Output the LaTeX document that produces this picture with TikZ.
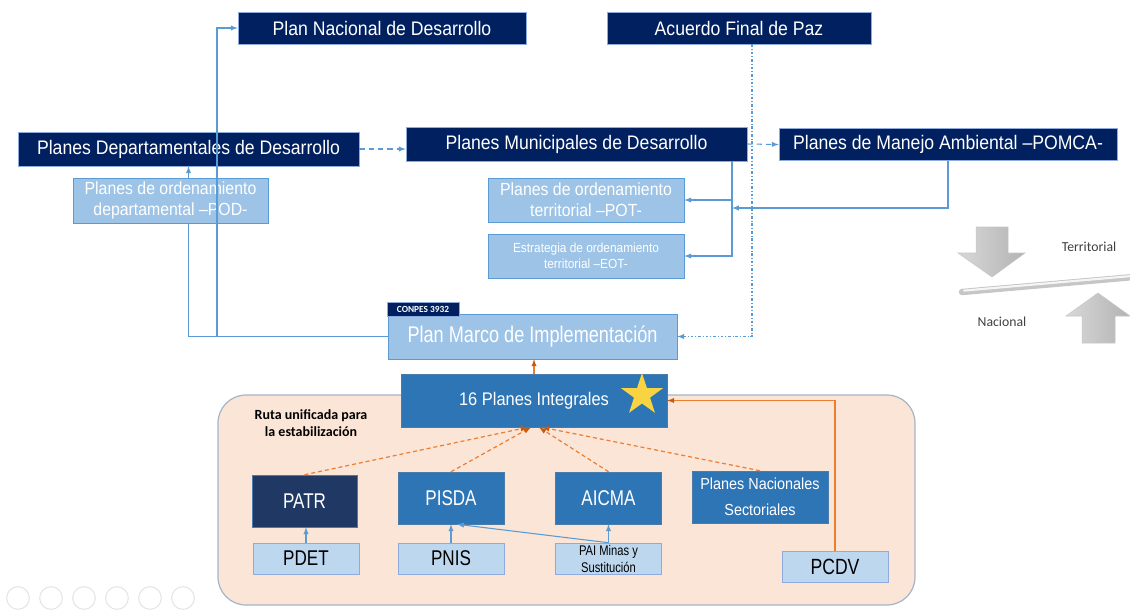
\documentclass[tikz,border=0pt]{standalone}
\usepackage{fontspec}
\setmainfont[FakeStretch=0.9]{Liberation Sans}
\newfontfamily\narrowsans[FakeStretch=0.8]{Liberation Sans}
\newfontfamily\calibri{Carlito}
\usetikzlibrary{shapes.geometric,calc}

\definecolor{plannavy}{HTML}{002060}
\definecolor{patrnavy}{HTML}{203864}
\definecolor{midblue}{HTML}{2E75B6}
\definecolor{softblue}{HTML}{9DC3E6}
\definecolor{paleblue}{HTML}{BDD7EE}
\definecolor{lineblue}{HTML}{5B9BD5}
\definecolor{frameblue}{HTML}{8FAADC}
\definecolor{peach}{HTML}{FBE5D6}
\definecolor{peachframe}{HTML}{A3B4CA}
\definecolor{rutaorange}{HTML}{ED7D31}
\definecolor{darkorange}{HTML}{C55A11}
\definecolor{staryellow}{HTML}{F8D443}

\tikzset{
  plan/.style={draw=frameblue, fill=plannavy, text=white, inner sep=0pt,
    minimum height=24pt, font=\fontsize{14.7}{17}\selectfont},
  ordbox/.style={draw=lineblue, fill=softblue, text=white, inner sep=0pt, align=center,
    minimum width=147pt, minimum height=33pt},
  programa/.style={draw=lineblue!80!black, fill=midblue, text=white, inner sep=0pt,
    align=center, minimum width=79.5pt, minimum height=39pt},
  fuente/.style={draw=frameblue, fill=paleblue, text=black, inner sep=0pt, align=center,
    minimum width=79.5pt, minimum height=23.25pt, font=\narrowsans\fontsize{16}{18}\selectfont},
  blueline/.style={lineblue, line width=0.8pt},
  bluedash/.style={lineblue, line width=0.8pt, dash pattern=on 4pt off 3pt},
  bluedots/.style={lineblue, line width=0.8pt, dash pattern=on 2pt off 1.5pt on 0.6pt off 1.5pt},
  orangedash/.style={rutaorange, line width=0.9pt, dash pattern=on 3pt off 2.2pt},
  orangeline/.style={rutaorange, line width=0.8pt},
  grayarrow/.style={left color=gray!30, right color=gray!60, draw=gray!45, line width=0.4pt},
  calitext/.style={text=black!75, font=\calibri\fontsize{10.3}{12}\selectfont}
}

\begin{document}
\begin{tikzpicture}[>=latex, x=0.75pt, y=-0.75pt]
\useasboundingbox (0,0) rectangle (1130,611);

% ruta unificada
\draw[fill=peach, draw=peachframe, line width=0.9pt, rounded corners=21pt] (218,395) rectangle (915,605);
\node[font=\calibri\bfseries\fontsize{10.5}{12.5}\selectfont, align=center] (ruta) at (311,423)
  {Ruta unificada para\\la estabilización};

% top level
\node[plan, minimum width=216pt] (pnd) at (382,28) {Plan Nacional de Desarrollo};
\node[plan, minimum width=198pt] (afp) at (739,28) {Acuerdo Final de Paz};
\node[plan, minimum width=255.75pt, minimum height=25.5pt] (pdd) at (188.5,149) {Planes Departamentales de Desarrollo};
\node[plan, minimum width=255.75pt, minimum height=25.5pt] (pmd) at (576.5,144) {Planes Municipales de Desarrollo};
\node[plan, minimum width=253.5pt] (pma) at (948,144.5) {Planes de Manejo Ambiental –POMCA-};

\node[ordbox, minimum width=216.75pt, minimum height=33.75pt,
  font=\narrowsans\fontsize{17}{19}\selectfont] (pmi) at (532.5,336.5) {Plan Marco de Implementación};
\node[fill=plannavy, draw=frameblue, line width=0.3pt, text=white, inner sep=0pt,
  minimum width=54pt, minimum height=10.5pt, font=\calibri\bfseries\fontsize{7}{8}\selectfont] (conpes) at (423,309) {CONPES 3932};

% departamental
\draw[blueline,->] (pmi.west) -| (pdd.south);
\node[ordbox, minimum width=146.25pt, minimum height=33.75pt,
  font=\fontsize{13.2}{15.75}\selectfont] (pod) at (170.5,200.5) {Planes de ordenamiento\\departamental –POD-};
\node[ordbox, font=\fontsize{13.2}{15.75}\selectfont] (pot) at (586,200) {Planes de ordenamiento\\territorial –POT-};
\node[ordbox, font=\fontsize{9.9}{12}\selectfont] (eot) at (586,256) {Estrategia de ordenamiento\\territorial –EOT-};

\coordinate (pndx) at (217,0);
\coordinate (munx) at (732,0);
\coordinate (pazx) at (752,0);
\coordinate (mjoin) at (732,208);

\draw[blueline,->] (pmi.west) -- (pmi.west -| pndx) |- (pnd.west);
\draw[bluedash,->] (pdd.east) -- (pdd.east -| pmd.west);
\draw[bluedash,->] (pmd.east) -- (pma.west);
\draw[blueline,->] (pmd.south -| munx) |- (pot.east);
\draw[blueline,->] (pmd.south -| munx) |- (eot.east);
\draw[blueline,->] (pma.south) |- (mjoin);
\draw[bluedots,->] (afp.south -| pazx) |- (pmi.east);

% planes integrales
\node[programa, minimum width=199.5pt, minimum height=39.75pt,
  font=\fontsize{13.7}{16}\selectfont] (pin) at (534,400.5) {16 Planes Integrales};
\node[star, star points=5, star point ratio=2.6, fill=staryellow, inner sep=0pt,
  minimum size=33pt] (estrella) at (642,395) {};

\node[programa, fill=patrnavy, minimum width=78.75pt, font=\narrowsans\fontsize{16}{18}\selectfont] (patr) at (304.5,501) {PATR};
\node[programa, font=\narrowsans\fontsize{16}{18}\selectfont] (pisda) at (451,498) {PISDA};
\node[programa, font=\narrowsans\fontsize{16}{18}\selectfont] (aicma) at (608.5,498) {AICMA};
\node[programa, minimum width=102pt, font=\fontsize{12}{19.5}\selectfont] (pns) at (760,497) {Planes Nacionales\\Sectoriales};

\node[fuente] (pdet) at (306,558.5) {PDET};
\node[fuente] (pnis) at (451,558.5) {PNIS};
\node[fuente, font=\narrowsans\fontsize{10.5}{12.75}\selectfont] (pai) at (608.5,558.5) {PAI Minas y\\Sustitución};
\node[fuente, font=\narrowsans\fontsize{16.5}{18}\selectfont] (pcdv) at (835,566.5) {PCDV};

\draw[blueline,->] (pdet.north) -- (pdet.north |- patr.south);
\draw[blueline,->] (pnis.north) -- (pisda.south);
\draw[blueline,->] (pai.north) -- (aicma.south);
\draw[blueline,->] (pai.north) -- ($(pisda.south)+(6,0)$);

\foreach \src/\dx in {patr/-6, pisda/-3, aicma/5, pns/8}
{
    \draw[orangedash, -{latex[darkorange]}] (\src.north) -- ($(pin.south)+(\dx,0)$);
}
\draw[orangeline, -{latex[darkorange]}] (pin.north) -- (pin.north |- pmi.south);
\draw[orangeline, -{latex[darkorange]}] (pcdv.north) |- (pin.east);

% territorial / nacional
\draw[grayarrow] (976,227) -- (1008,227) -- (1008,253) -- (1025,253) -- (992,277)
  -- (958,253) -- (976,253) -- cycle;
\draw[grayarrow] (1082,343) -- (1115,343) -- (1115,316) -- (1130,316) -- (1098,293)
  -- (1066,316) -- (1082,316) -- cycle;
\draw[gray!45, line width=4.8pt, line cap=round] (962,292) -- (1134,277);
\draw[gray!8, line width=1.6pt, line cap=round] (964,290.6) -- (1134,275.8);
\node[calitext] (terr) at (1089,247) {Territorial};
\node[calitext] (nac) at (1002,322) {Nacional};

% visor
\foreach \x in {18,51,84,117,150,183}
{
    \draw[gray!20, line width=0.8pt] (\x,598) circle (8.5pt);
}
\end{tikzpicture}
\end{document}
